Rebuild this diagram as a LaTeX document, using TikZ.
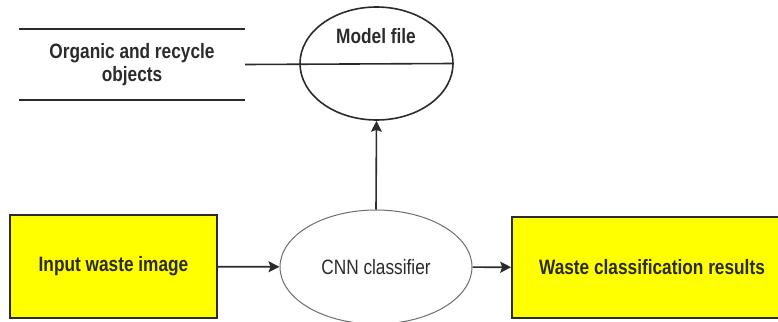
\documentclass[tikz,border=0pt]{standalone}
\usepackage{fontspec}
\setmainfont[FakeStretch=0.83]{Liberation Sans}
\usepackage{xcolor}
\definecolor{wasteyellow}{HTML}{FFFF00}
\definecolor{inkgray}{HTML}{2B2B2B}
\definecolor{rimgray}{HTML}{6E6E6E}
\usepackage{tikz}
\usetikzlibrary{
  positioning,
  arrows.meta,
  shapes.geometric
}

\begin{document}
\begin{tikzpicture}[
  x=1pt, y=-1pt,
  every node/.style={font=\fontsize{20.8}{23}\selectfont, text=inkgray, align=center},
  box/.style={draw=inkgray, line width=1.6pt, fill=wasteyellow, font=\fontsize{20.8}{23}\selectfont\bfseries},
  flow/.style={draw=inkgray, line width=1.6pt, -{Stealth[length=11pt,width=11pt,inset=2pt]}}
]
% Frame
\useasboundingbox (0,0) rectangle (778,321);
\clip (0,0) rectangle (778,321);

% Input and results
\node[box, minimum width=207pt, minimum height=103pt] (input) at (113.5,266.5) {Input waste image};
\node[box, minimum width=280pt, minimum height=101pt] (results) at (652,267.5) {Waste classification results};

% Classifier
\node[draw=rimgray, line width=1pt, ellipse, inner sep=0pt,
  minimum width=192pt, minimum height=114pt] (cnn) at (376,267) {CNN classifier};

% Model file
\node[draw=inkgray, line width=1.6pt, ellipse, inner sep=0pt,
  minimum width=153pt, minimum height=113pt] (model) at (376.5,63.5) {};
\node[font=\fontsize{20.8}{23}\selectfont\bfseries] (modeltxt) at (376,36) {Model file};

% Data store
\node[font=\fontsize{20.8}{23}\selectfont\bfseries, inner sep=0pt,
  minimum width=226pt, minimum height=71pt] (store) at (132,64.5) {Organic and recycle\\objects};
\draw[inkgray, line width=1.6pt] (store.north west) -- (store.north east);
\draw[inkgray, line width=1.6pt] (store.south west) -- (store.south east);
\draw[inkgray, line width=1.6pt] (store.east) -- (model.east);

% Flow
\draw[flow] (input) -- (cnn);
\draw[flow] (cnn) -- (results);
\draw[flow] (cnn.north) -- (model.south);

\end{tikzpicture}
\end{document}
